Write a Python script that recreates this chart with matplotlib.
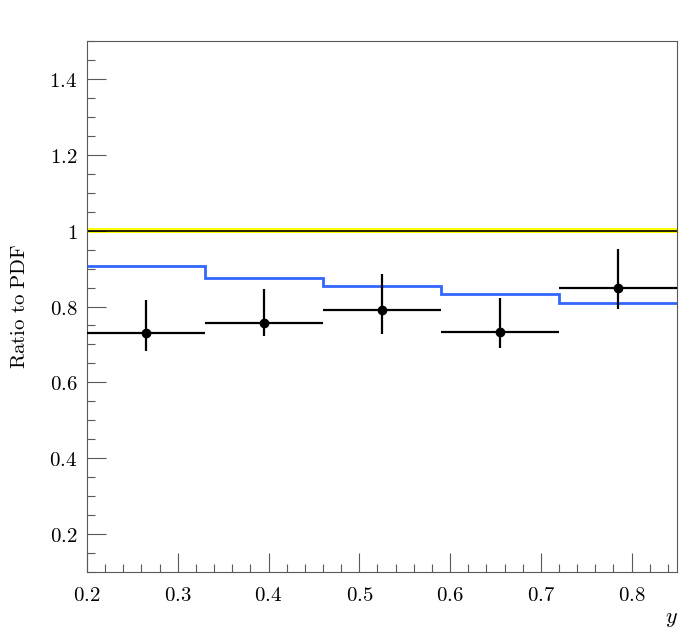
import numpy as np
import matplotlib
matplotlib.use("Agg")
import matplotlib.pyplot as plt
from matplotlib.ticker import MultipleLocator, FixedLocator

plt.rcParams["mathtext.fontset"] = "cm"

# bin edges in y
bin_edges = [0.20, 0.33, 0.46, 0.59, 0.72, 0.85]
# data / PDF ratio
data_vals = [0.729, 0.756, 0.791, 0.734, 0.850]
data_err_up = [0.087, 0.089, 0.094, 0.089, 0.102]
data_err_dn = [0.047, 0.034, 0.064, 0.044, 0.056]
# MC prediction ratio
mc_vals = [0.908, 0.874, 0.855, 0.833, 0.809]
# reference band half-width
ref_band = 0.007

x_ticks = [0.2, 0.3, 0.4, 0.5, 0.6, 0.7, 0.8]
x_labels = ["0.2", "0.3", "0.4", "0.5", "0.6", "0.7", "0.8"]
y_ticks = [0.2, 0.4, 0.6, 0.8, 1.0, 1.2, 1.4]
y_labels = ["0.2", "0.4", "0.6", "0.8", "1", "1.2", "1.4"]

edges = np.array(bin_edges)
centers = 0.5 * (edges[:-1] + edges[1:])
halfw = 0.5 * (edges[1:] - edges[:-1])

fig = plt.figure(figsize=(7.0, 6.32), dpi=100)
ax = fig.add_axes([0.1243, 0.0949, 0.8428, 0.8402])

# reference band at 1
ax.fill_between([edges[0], edges[-1]], 1 - ref_band, 1 + ref_band,
                color="#ffff00", lw=0, zorder=1)
ax.plot([edges[0], edges[-1]], [1, 1], color="black", lw=1.2, zorder=2)

# MC step line
ax.stairs(mc_vals, edges, color="#3366ff", lw=2.0, baseline=None, zorder=3)

# data points
ax.errorbar(centers, data_vals, xerr=halfw, yerr=[data_err_dn, data_err_up],
            fmt="o", color="black", ms=6, lw=1.6, capsize=0, zorder=4)

ax.set_xlim(0.2, 0.85)
ax.set_ylim(0.1, 1.5)

ax.xaxis.set_major_locator(FixedLocator(x_ticks))
ax.xaxis.set_minor_locator(MultipleLocator(0.02))
ax.set_xticklabels(["$%s$" % s for s in x_labels])
ax.yaxis.set_major_locator(FixedLocator(y_ticks))
ax.yaxis.set_minor_locator(MultipleLocator(0.05))
ax.set_yticklabels(["$%s$" % s for s in y_labels])

ax.tick_params(which="both", direction="in", top=False, right=False,
               color="0.35", labelsize=15)
ax.tick_params(axis="x", pad=9)
ax.tick_params(axis="y", pad=7)
ax.tick_params(which="major", length=13.5, width=0.8)
ax.tick_params(which="minor", length=6, width=0.8)
for s in ax.spines.values():
    s.set_color("0.35")
    s.set_linewidth(0.8)

ax.set_ylabel(r"$\mathrm{Ratio\ to\ PDF}$", fontsize=15)
ax.yaxis.set_label_coords(-0.098, 0.5)
fig.text(0.968, 0.005, r"$y$", fontsize=16, ha="right", va="bottom")

fig.savefig("out.png", dpi=100)
